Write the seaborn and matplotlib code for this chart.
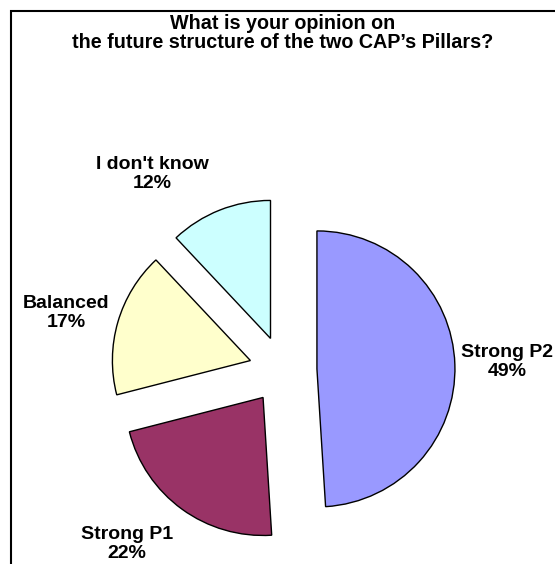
import matplotlib
matplotlib.use("Agg")
import matplotlib.pyplot as plt
from matplotlib.patches import Rectangle
import seaborn as sns

# Survey answers
categories = ["Strong P2", "Strong P1", "Balanced", "I don't know"]
shares = [49, 22, 17, 12]
colors = ["#9999FF", "#993366", "#FFFFCC", "#CCFFFF"]

sns.set_style("white")
plt.rcParams["font.family"] = ["Liberation Sans", "DejaVu Sans"]
plt.rcParams["text.color"] = "black"

W, H = 555, 564
R = 138.0          # pie radius in pixels
CX, CY = 283, 370  # pie centre in pixels (from top-left)

fig = plt.figure(figsize=(W / 100, H / 100), dpi=100)
ax = fig.add_axes([0, 0, 1, 1])

ax.pie(shares, colors=colors, startangle=90, counterclock=False,
       explode=[0.246] * len(shares), radius=1.0, center=(0, 0),
       wedgeprops=dict(edgecolor="black", linewidth=1.0), frame=True)
# data units: one unit = one pie radius, origin at the pie centre
ax.set_xlim(-CX / R, (W - CX) / R)
ax.set_ylim(-(H - CY) / R, CY / R)
ax.set_axis_off()

# label anchor points in pixels
label_px = [(507, 362), (127, 544), (66, 313), (152, 174)]
for name, val, (px, py) in zip(categories, shares, label_px):
    ax.text((px - CX) / R, (CY - py) / R, f"{name}\n{val}%",
            ha="center", va="center", fontsize=14, fontweight="bold",
            linespacing=1.1, color="black")

fig.text(283 / W, 1 - 33 / H,
         "What is your opinion on\nthe future structure of the two CAP\u2019s Pillars?",
         ha="center", va="center", fontsize=14.2, fontweight="bold",
         linespacing=1.05, color="black")

# outer frame
fig.patches.append(Rectangle((11 / W, -0.1), 1.2, 1 - 11 / H + 0.1,
                             transform=fig.transFigure, fill=False,
                             edgecolor="black", linewidth=1.5))

fig.savefig("out.png", dpi=100)
